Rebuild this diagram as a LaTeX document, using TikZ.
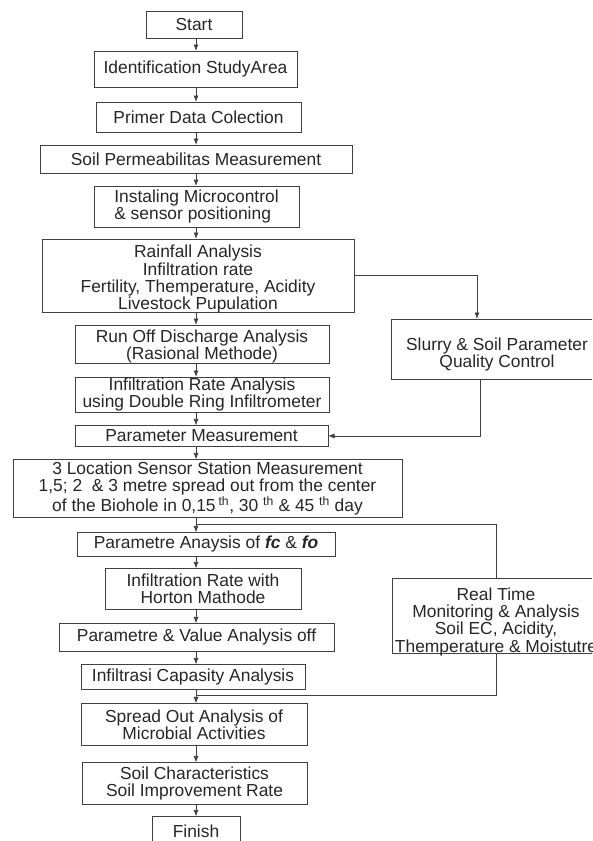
\documentclass[tikz,border=0pt]{standalone}
\usepackage{fontspec}
\setmainfont{Liberation Sans}
\usetikzlibrary{positioning,arrows.meta}

\begin{document}
\begin{tikzpicture}[x=1pt,y=1pt,font=\fontsize{17.4}{17.2}\selectfont]
	% node and connector styles
	\tikzstyle{startstop} = [rectangle, draw=black!75, line width=0.9pt, minimum width=88pt, minimum height=27pt, inner sep=1pt, outer sep=0pt, text centered, text=black!85]	% start / finish
	\tikzstyle{process} = [rectangle, draw=black!75, line width=0.9pt, inner sep=1pt, outer sep=0pt, align=center, text=black!85]	% steps
	\tikzstyle{line} = [draw=black!75, line width=0.8pt]
	\tikzstyle{arrow} = [line, -{Latex[length=6.5pt,width=5pt]}]	% arrows
	\useasboundingbox (0,0) rectangle (592,-841);
	\clip (0,0) rectangle (592,-841);
	\coordinate (col) at (196,0);

	\node (start) [startstop, minimum width=96pt] at (194,-24.5) {Start};
	\node (ident) [process, minimum width=203pt, minimum height=36pt, below=13pt of start, xshift=1.5pt] {Identification StudyArea};
	\node (primer) [process, minimum width=205pt, minimum height=30pt, below=15pt of ident, xshift=3pt] {Primer Data Colection};
	\node (soilperm) [process, minimum width=312pt, minimum height=28pt, below=13pt of primer, xshift=-2.5pt] {Soil Permeabilitas Measurement};
	\node (instal) [process, align=left, minimum width=205pt, minimum height=41pt, below=13pt of soilperm, xshift=0.5pt] {Instaling Microcontrol\\\& sensor positioning};
	\node (rain) [process, minimum width=312pt, minimum height=73pt, text height=68pt, text depth=0pt, below=12pt of instal, xshift=1.5pt] {Rainfall Analysis\\Infiltration rate\\Fertility, Themperature, Acidity\\Livestock Pupulation};
	\node (runoff) [process, minimum width=254pt, minimum height=38pt, text height=31pt, text depth=0pt, below=13pt of rain, xshift=4pt] {Run Off Discharge Analysis\\(Rasional Methode)};
	\node (inflrate) [process, minimum width=254pt, minimum height=35pt, below=14pt of runoff] {Infiltration Rate Analysis\\using Double Ring Infiltrometer};
	\node (parmeas) [process, minimum width=253pt, minimum height=21pt, below=13pt of inflrate, xshift=-0.5pt] {Parameter Measurement};
	\node (sensor) [process, minimum width=389pt, minimum height=58pt, below=13pt of parmeas, xshift=6pt] {3 Location Sensor Station Measurement\\1,5; 2~ \& 3 metre spread out from the center\\of the Biohole in 0,15\,\textsuperscript{th}, 30 \textsuperscript{th} \& 45 \textsuperscript{th} day};
	\node (fcfo) [process, minimum width=258pt, minimum height=24pt, below=15pt of sensor, xshift=-1.5pt] {Parametre Anaysis of \textbf{\textit{fc}} \& \textbf{\textit{fo}}};
	\node (horton) [process, minimum width=196pt, minimum height=41pt, below=12pt of fcfo, xshift=-3pt] {Infiltration Rate with\\Horton Mathode};
	\node (parval) [process, minimum width=275pt, minimum height=28pt, below=14pt of horton, xshift=-6.5pt] {Parametre \& Value Analysis off};
	\node (infcap) [process, minimum width=224pt, minimum height=25pt, below=13pt of parval, xshift=-3.5pt] {Infiltrasi Capasity Analysis};
	\node (spread) [process, minimum width=226pt, minimum height=42pt, below=14pt of infcap, xshift=1pt] {Spread Out Analysis of\\Microbial Activities};
	\node (soilchar) [process, minimum width=225pt, minimum height=42pt, below=17pt of spread, xshift=0.5pt] {Soil Characteristics\\Soil Improvement Rate};
	\node (finish) [startstop, minimum height=30pt, below=12pt of soilchar, xshift=1.5pt] {Finish};

	% side boxes
	\node (slurry) [process, minimum width=212pt, minimum height=60pt, text height=37pt, text depth=0pt] at (497,-349) {Slurry \& Soil Parameter\\Quality Control};
	\node (monitor) [process, minimum width=208pt, minimum height=75pt, text height=73pt, text depth=0pt] at (496,-615.5) {Real Time\\Monitoring \& Analysis\\Soil EC, Acidity,\\Themperature \& Moistutre};

	% connectors
	\draw [arrow] (start.south -| col) -- (ident.north -| col);
	\draw [arrow] (ident.south -| col) -- (primer.north -| col);
	\draw [arrow] (primer.south -| col) -- (soilperm.north -| col);
	\draw [arrow] (soilperm.south -| col) -- (instal.north -| col);
	\draw [arrow] (instal.south -| col) -- (rain.north -| col);
	\draw [arrow] (rain.south -| col) -- (runoff.north -| col);
	\draw [arrow] (runoff.south -| col) -- (inflrate.north -| col);
	\draw [arrow] (inflrate.south -| col) -- (parmeas.north -| col);
	\draw [arrow] (parmeas.south -| col) -- (sensor.north -| col);
	\draw [arrow] (sensor.south -| col) -- (fcfo.north -| col);
	\draw [arrow] (fcfo.south -| col) -- (horton.north -| col);
	\draw [arrow] (horton.south -| col) -- (parval.north -| col);
	\draw [arrow] (parval.south -| col) -- (infcap.north -| col);
	\draw [arrow] (infcap.south -| col) -- (spread.north -| col);
	\draw [arrow] (spread.south -| col) -- (soilchar.north -| col);
	\draw [arrow] (soilchar.south -| col) -- (finish.north -| col);

	\coordinate (split) at ([yshift=-7pt]sensor.south -| col);
	\coordinate (merge) at ([yshift=-6pt]infcap.south -| col);
	\draw [arrow] (rain.east) -| ([xshift=-20pt]slurry.north);
	\draw [arrow] ([xshift=-17pt]slurry.south) |- (parmeas.east);
	\draw [line] (split) -| (monitor.north);
	\draw [line] (monitor.south) |- (merge);
\end{tikzpicture}
\end{document}
